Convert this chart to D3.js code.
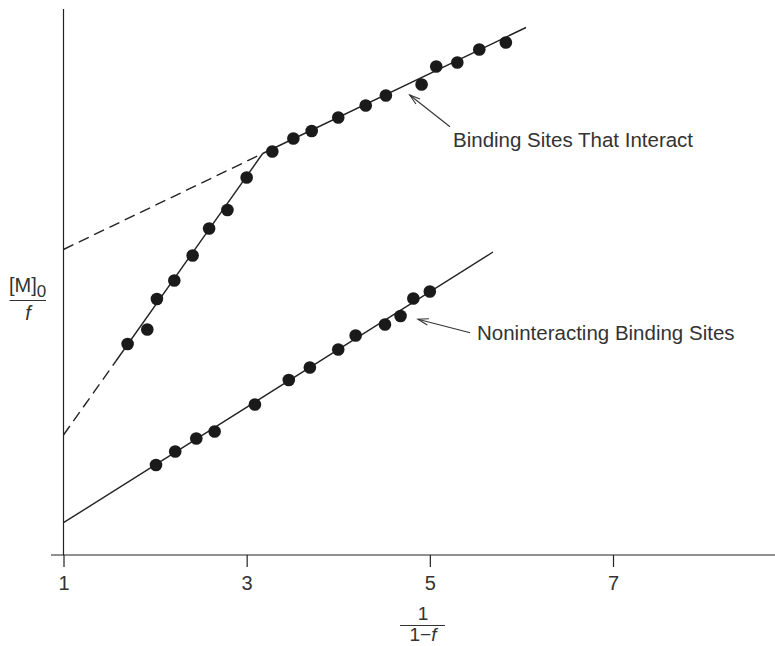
<!DOCTYPE html>
<html>
<head>
<meta charset="utf-8">
<script src="https://cdn.jsdelivr.net/npm/d3@7"></script>
<style>
  html, body { margin: 0; padding: 0; background: #fff; }
  svg { display: block; }
  text { font-family: "Liberation Sans", Arial, Helvetica, sans-serif; fill: #333; }
</style>
</head>
<body>
<svg id="chart" width="775" height="646"></svg>
<script>
// ---- Data (x = 1/(1-f), y = [M]0/f in arbitrary units) ----
const xTicks = [1, 3, 5, 7];

const interactX = [1.70, 1.915, 2.02, 2.21, 2.41, 2.59, 2.79, 3.00, 3.28, 3.51, 3.71, 4.00, 4.30, 4.52, 4.91, 5.07, 5.30, 5.54, 5.83];
const interactY = [4.22, 4.51, 5.12, 5.49, 5.99, 6.53, 6.90, 7.55, 8.07, 8.33, 8.48, 8.75, 8.99, 9.19, 9.41, 9.77, 9.85, 10.11, 10.25];

const nonX = [2.01, 2.22, 2.45, 2.65, 3.09, 3.46, 3.69, 4.00, 4.19, 4.51, 4.68, 4.82, 5.00];
const nonY = [1.80, 2.07, 2.33, 2.47, 3.01, 3.50, 3.75, 4.11, 4.39, 4.61, 4.78, 5.13, 5.27];

// Fitted lines: [x0, y0, x1, y1]
const nonLine       = [1.0, 0.646, 5.69, 6.06];
const steepSolid    = [1.573, 3.88, 3.175, 8.03];
const steepDashed   = [1.0, 2.40, 1.573, 3.88];
const shallowSolid  = [3.175, 8.03, 6.05, 10.55];
const shallowDashed = [1.0, 6.11, 3.175, 8.03];

const labels = ["Binding Sites That Interact", "Noninteracting Binding Sites"];
// arrow [fromX, fromY, toX, toY] in data units
const arrowInteract = [5.22, 8.566, 4.78, 9.20];
const arrowNon      = [5.44, 4.446, 4.87, 4.714];

// ---- Scales ----
const svg = d3.select("#chart");
const x = d3.scaleLinear().domain([1, 7]).range([63.5, 613]);
const y = d3.scaleLinear().domain([0, 10.92]).range([555, 9]);

// Axes
const axisG = svg.append("g");
axisG.append("line")
  .attr("x1", x(1) - 12.5).attr("x2", 775)
  .attr("y1", y(0)).attr("y2", y(0))
  .attr("stroke", "#222").attr("stroke-width", 1.2);
axisG.append("line")
  .attr("x1", x(1)).attr("x2", x(1))
  .attr("y1", y(10.92)).attr("y2", y(0))
  .attr("stroke", "#222").attr("stroke-width", 1.2);

const xAxis = d3.axisBottom(x).tickValues(xTicks).tickSize(12).tickPadding(9).tickFormat(d3.format("d"));
const gx = svg.append("g").attr("transform", `translate(0,${y(0)})`).call(xAxis);
gx.select(".domain").remove();
gx.selectAll(".tick line").attr("stroke", "#222").attr("stroke-width", 1.2);
gx.selectAll(".tick text").style("font-size", "20px").attr("fill", "#333")
  .style("font-family", "'Liberation Sans', Arial, sans-serif");

// Lines
function seg(arr, dashed) {
  svg.append("line")
    .attr("x1", x(arr[0])).attr("y1", y(arr[1]))
    .attr("x2", x(arr[2])).attr("y2", y(arr[3]))
    .attr("stroke", "#222").attr("stroke-width", 1.4)
    .attr("stroke-dasharray", dashed ? "11,6" : null);
}
seg(nonLine, false);
seg(steepSolid, false);
seg(steepDashed, true);
seg(shallowSolid, false);
seg(shallowDashed, true);

// Points
const pts = interactX.map((d, i) => [d, interactY[i]]).concat(nonX.map((d, i) => [d, nonY[i]]));
svg.append("g").selectAll("circle").data(pts).join("circle")
  .attr("cx", d => x(d[0])).attr("cy", d => y(d[1])).attr("r", 6.3)
  .attr("fill", "#1a1a1a");

// Arrows with open heads
function arrow(a) {
  const x1 = x(a[0]), y1 = y(a[1]), x2 = x(a[2]), y2 = y(a[3]);
  svg.append("line").attr("x1", x1).attr("y1", y1).attr("x2", x2).attr("y2", y2)
    .attr("stroke", "#333").attr("stroke-width", 1.1);
  const ang = Math.atan2(y1 - y2, x1 - x2);
  const L = 11, w = 0.3;
  const p1 = [x2 + L * Math.cos(ang + w), y2 + L * Math.sin(ang + w)];
  const p2 = [x2 + L * Math.cos(ang - w), y2 + L * Math.sin(ang - w)];
  svg.append("path")
    .attr("d", `M${p1[0]},${p1[1]} L${x2},${y2} L${p2[0]},${p2[1]}`)
    .attr("fill", "none").attr("stroke", "#333").attr("stroke-width", 1.1);
}
arrow(arrowInteract);
arrow(arrowNon);

// Labels
svg.append("text").attr("x", 453).attr("y", 147).style("font-size", "20.5px").text(labels[0]);
svg.append("text").attr("x", 477).attr("y", 340).style("font-size", "20.5px").text(labels[1]);

// X axis title: 1 / (1 - f)
const xt = svg.append("g").attr("transform", "translate(423,0)");
xt.append("text").attr("x", 0).attr("y", 620).attr("text-anchor", "middle").style("font-size", "19px").text("1");
xt.append("line").attr("x1", -23).attr("x2", 22).attr("y1", 625.5).attr("y2", 625.5).attr("stroke", "#333").attr("stroke-width", 1.2);
const den = xt.append("text").attr("x", 0).attr("y", 641).attr("text-anchor", "middle").style("font-size", "19px");
den.append("tspan").text("1\u2212");
den.append("tspan").style("font-style", "italic").text("f");

// Y axis title: [M]0 / f
const yt = svg.append("g");
const num = yt.append("text").attr("x", 9).attr("y", 292).style("font-size", "20px");
num.append("tspan").text("[M]");
num.append("tspan").attr("dy", 5).style("font-size", "17px").text("0");
yt.append("line").attr("x1", 9.5).attr("x2", 46).attr("y1", 300.5).attr("y2", 300.5).attr("stroke", "#333").attr("stroke-width", 1.2);
yt.append("text").attr("x", 28).attr("y", 320).attr("text-anchor", "middle").style("font-size", "20px").style("font-style", "italic").text("f");
</script>
</body>
</html>
